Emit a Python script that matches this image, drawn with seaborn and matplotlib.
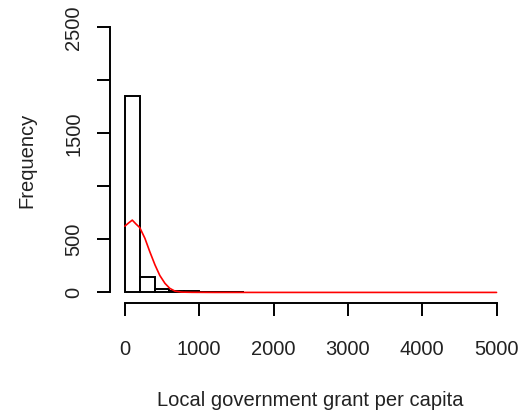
#!/usr/bin/env python3
"""Histogram of local government grant per capita with a fitted curve (R base style)."""

import pandas as pd
import matplotlib
matplotlib.use("Agg")
import matplotlib.pyplot as plt
import seaborn as sns

# bin edges and counts
bin_edges = [0, 200, 400, 600, 800, 1000, 1200, 1400, 1600]
bin_counts = [1855, 145, 30, 18, 12, 5, 3, 2]

# red curve, read point by point
curve_x = [0, 50, 100, 150, 200, 270, 335, 405, 470, 540, 605, 675, 765, 900, 1200, 5000]
curve_y = [625, 655, 682, 645, 612, 510, 385, 260, 160, 85, 38, 12, 3, 1, 0, 0]

x_ticks = [0, 1000, 2000, 3000, 4000, 5000]
x_tick_labels = ["0", "1000", "2000", "3000", "4000", "5000"]
y_ticks = [0, 500, 1000, 1500, 2000, 2500]
y_tick_labels = ["0", "500", "", "1500", "", "2500"]


def main():
    sns.set_style("white")
    plt.rcParams['font.family'] = ['Liberation Sans', 'DejaVu Sans']

    fig = plt.figure(figsize=(5.22, 4.19), dpi=100)
    ax = fig.add_axes([0.2107, 0.2768, 0.769, 0.6832])

    mids = [(a + b) / 2 for a, b in zip(bin_edges[:-1], bin_edges[1:])]
    df = pd.DataFrame({'value': mids, 'count': bin_counts})
    sns.histplot(data=df, x='value', weights='count', bins=bin_edges,
                 color='white', edgecolor='black', linewidth=1.4, alpha=1, ax=ax)

    curve = pd.DataFrame({'x': curve_x, 'y': curve_y})
    sns.lineplot(data=curve, x='x', y='y', color='red', linewidth=1.2, ax=ax)

    # R-like axes: padded limits, detached axis lines
    ax.set_xlim(-200, 5200)
    ax.set_ylim(-100, 2600)
    for side in ['top', 'right']:
        ax.spines[side].set_visible(False)
    ax.spines['left'].set_bounds(0, 2500)
    ax.spines['bottom'].set_bounds(0, 5000)
    for side in ['left', 'bottom']:
        ax.spines[side].set_linewidth(1.4)
        ax.spines[side].set_color('black')

    ax.set_xticks(x_ticks)
    ax.set_xticklabels(x_tick_labels)
    ax.set_yticks(y_ticks)
    ax.set_yticklabels(y_tick_labels, rotation=90, va='center')
    ax.tick_params(axis='both', direction='out', length=9.4, width=1.4,
                   color='black', labelsize=14.5, labelcolor='#222222',
                   left=True, bottom=True)
    ax.tick_params(axis='x', pad=17)
    ax.tick_params(axis='y', pad=10)

    ax.set_xlabel('Local government grant per capita', fontsize=14.5,
                  color='#222222', labelpad=23)
    ax.set_ylabel('Frequency', fontsize=14.5, color='#222222', labelpad=20)

    fig.savefig('out.png', dpi=100)


if __name__ == "__main__":
    main()
